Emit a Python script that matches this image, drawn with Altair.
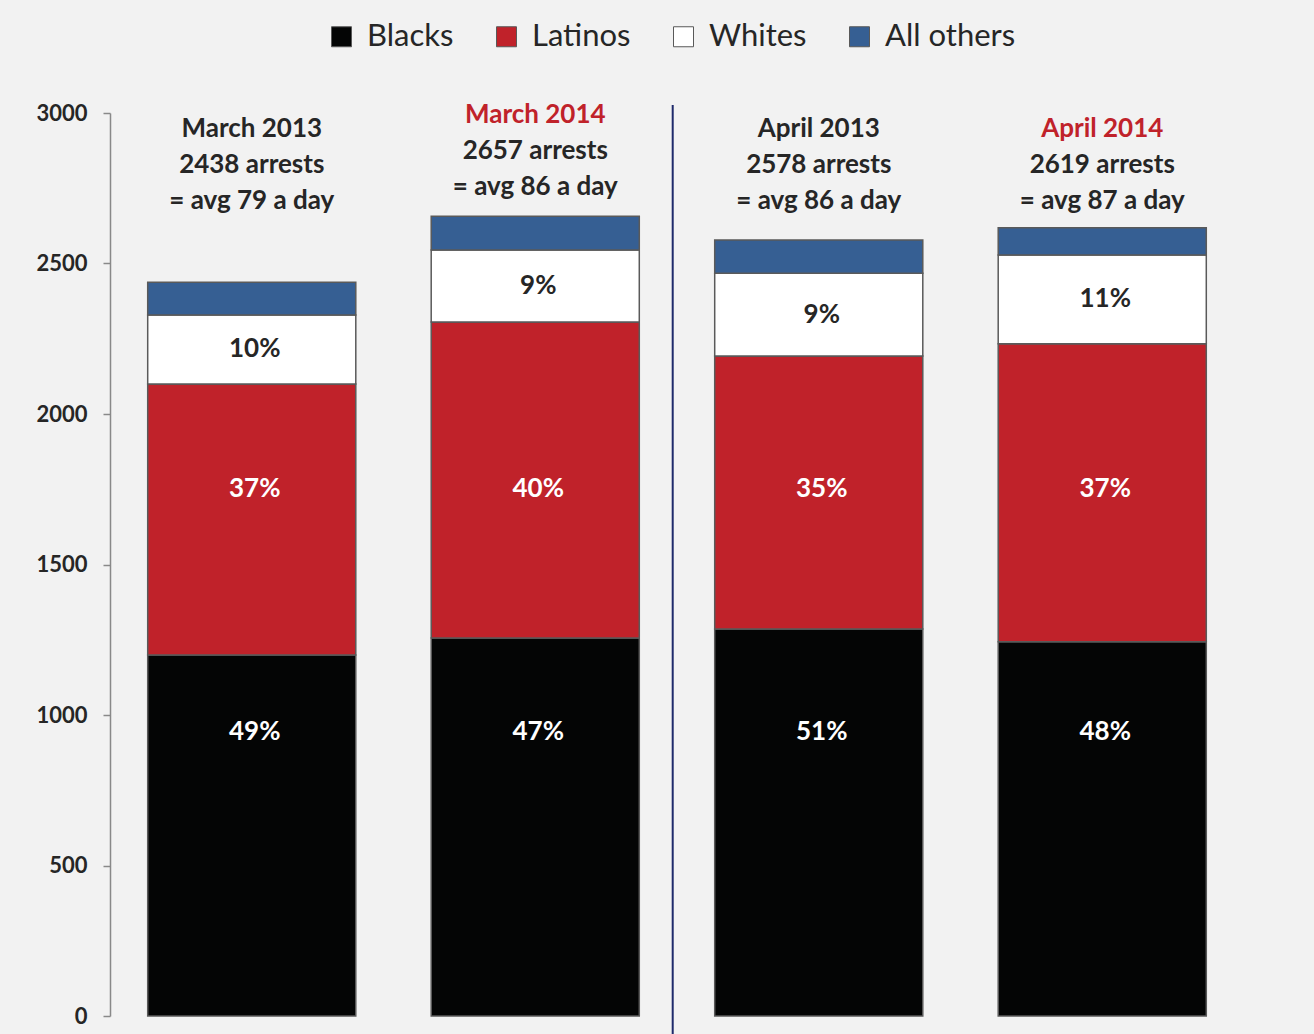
import altair as alt
import pandas as pd

periods = ["March 2013", "March 2014", "April 2013", "April 2014"]
totals = [2438, 2657, 2578, 2619]
avg_per_day = [79, 86, 86, 87]
groups = ["Blacks", "Latinos", "Whites", "All others"]
blacks = [1199, 1256, 1286, 1243]
latinos = [901, 1050, 907, 990]
whites = [229, 239, 275, 295]
others = [109, 112, 110, 91]
pct_blacks = ["49%", "47%", "51%", "48%"]
pct_latinos = ["37%", "40%", "35%", "37%"]
pct_whites = ["10%", "9%", "9%", "11%"]

series = {"Blacks": blacks, "Latinos": latinos, "Whites": whites, "All others": others}
labels = {"Blacks": pct_blacks, "Latinos": pct_latinos, "Whites": pct_whites,
          "All others": ["", "", "", ""]}

rows = []
for i, p in enumerate(periods):
    base = 0
    for k, g in enumerate(groups):
        v = series[g][i]
        rows.append({"period": p, "group": g, "order": k, "value": v,
                     "y0": base, "y1": base + v, "label": labels[g][i]})
        base += v
df = pd.DataFrame(rows)

hdr = pd.DataFrame({
    "period": periods,
    "line1": periods,
    "line2": [f"{t} arrests" for t in totals],
    "line3": [f"= avg {a} a day" for a in avg_per_day],
    "is2014": [p.endswith("2014") for p in periods],
})

W, H = 1134, 903
FONT = "Lato"
HFS = 26

xenc = alt.X("period:N", sort=periods, axis=None,
             scale=alt.Scale(paddingInner=0.266, paddingOuter=0.133))
yscale = alt.Scale(domain=[0, 3000], nice=False)

bars = alt.Chart(df).mark_bar(stroke="#5a5a5a", strokeWidth=1.5).encode(
    x=xenc,
    y=alt.Y("y1:Q", scale=yscale,
            axis=alt.Axis(values=[0, 500, 1000, 1500, 2000, 2500, 3000], grid=False,
                          format="d", title=None, domainColor="#898989",
                          tickColor="#898989", domainWidth=1.5, tickWidth=1.5,
                          tickSize=7, labelPadding=16, labelFont=FONT,
                          labelFontSize=22, labelFontWeight="bold",
                          labelColor="#262626")),
    y2="y0:Q",
    color=alt.Color("group:N", sort=groups,
                    scale=alt.Scale(domain=groups,
                                    range=["#040505", "#c0222a", "#ffffff", "#365f93"]),
                    legend=alt.Legend(title=None, orient="none", direction="horizontal",
                                      legendX=216, legendY=-92, symbolType="square",
                                      symbolSize=400, symbolStrokeColor="#595959",
                                      symbolStrokeWidth=1, labelFont=FONT,
                                      labelFontSize=31, labelColor="#262626",
                                      labelOffset=10, columnPadding=37, columns=4)),
    order=alt.Order("order:Q"),
)

lab = alt.Chart(df).transform_filter("datum.label != ''").transform_calculate(
    ly="datum.group == 'Blacks' ? 945 : (datum.group == 'Latinos' ? 1752 : (datum.y0 + datum.y1) / 2)",
    tc="datum.group == 'Whites' ? '#262626' : '#ffffff'",
).mark_text(font=FONT, fontSize=26, fontWeight="bold", baseline="middle", dx=3).encode(
    x=xenc,
    y=alt.Y("ly:Q", scale=yscale),
    text="label:N",
    fill=alt.Fill("tc:N", scale=None),
)

hbase = alt.Chart(hdr).transform_calculate(
    hy="datum.period == 'March 2014' ? 2995 : 2948",
    hc="datum.is2014 ? '#c0222a' : '#262626'",
)
h1 = hbase.mark_text(font=FONT, fontSize=HFS, fontWeight="bold", baseline="middle").encode(
    x=xenc, y=alt.Y("hy:Q", scale=yscale), text="line1:N",
    fill=alt.Fill("hc:N", scale=None),
)
h2 = hbase.mark_text(font=FONT, fontSize=HFS, fontWeight="bold", baseline="middle",
                     dy=36, fill="#262626").encode(
    x=xenc, y=alt.Y("hy:Q", scale=yscale), text="line2:N")
h3 = hbase.mark_text(font=FONT, fontSize=HFS, fontWeight="bold", baseline="middle",
                     dy=72, fill="#262626").encode(
    x=xenc, y=alt.Y("hy:Q", scale=yscale), text="line3:N")

divider = alt.Chart(pd.DataFrame({"period": ["April 2013"]})).mark_rule(
    color="#1f2a6b", strokeWidth=2, xOffset=-42
).encode(
    x=alt.X("period:N", sort=periods, axis=None, bandPosition=0,
            scale=alt.Scale(paddingInner=0.266, paddingOuter=0.133)),
    y=alt.value(-8), y2=alt.value(H + 20),
)

chart = alt.layer(bars, lab, h1, h2, h3, divider).properties(
    width=W, height=H,
    background="#f2f2f2",
    padding={"left": 110, "top": 113, "right": 70, "bottom": 18},
    autosize=alt.AutoSizeParams(type="none"),
).configure_view(stroke=None)

chart.save("out.html", embed_options={"renderer": "svg", "actions": False})
